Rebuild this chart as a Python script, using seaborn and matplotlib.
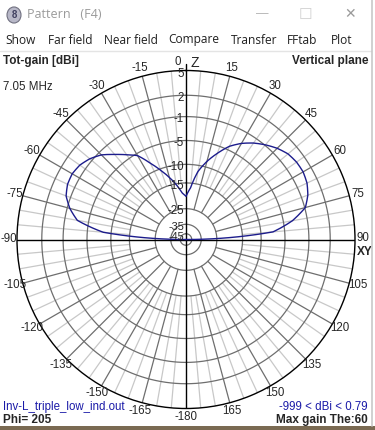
import numpy as np
import matplotlib
matplotlib.use("Agg")
import matplotlib.pyplot as plt
import seaborn as sns

sns.set_style("white")
plt.rcParams["font.family"] = ["Liberation Sans", "DejaVu Sans"]

# far-field pattern, vertical plane (theta measured from Z, clockwise)
theta_deg = [-90, -85, -80, -75, -70, -65, -60, -55, -50, -45, -40, -35, -30, -25, -20,
             -15, -10, -5, 0, 5, 10, 15, 20, 25, 30, 35, 40, 45, 50, 55, 60, 65, 70,
             75, 80, 85, 90]
gain_dbi = [-999, -8.2, -3.0, -1.4, -0.3, 0.15, 0.25, 0.0, -0.6, -1.5, -2.9, -4.2, -5.4,
            -8.0, -10.4, -12.8, -15.3, -18.2, -19.6, -16.5, -11.5, -8.7, -6.4, -4.3,
            -2.9, -1.8, -0.9, -0.1, 0.5, 0.75, 0.79, 0.55, 0.0, -0.9, -3.4, -7.3, -999]

ring_db = [5, 2, -1, -5, -10, -15, -25, -35, -45]
angle_ticks = list(range(-165, 181, 15))
menu_items = ["Show", "Far field", "Near field", "Compare", "Transfer", "FFtab", "Plot"]
menu_x = [5, 48, 104, 168, 231, 287, 331]

TOP_DB = 5.0
K = 0.05
D_FLOOR = 60.0


def to_r(dbi):
    """4nec2 style log scale: outer ring = TOP_DB, centre = -inf."""
    d = np.clip(TOP_DB - np.asarray(dbi, dtype=float), 0, None)
    r = (np.exp(-K * d) - np.exp(-K * D_FLOOR)) / (1 - np.exp(-K * D_FLOOR))
    return np.clip(r, 0, 1)


W, H = 375, 430
fig = plt.figure(figsize=(W / 100, H / 100), dpi=100)
fig.patch.set_facecolor("white")


def px(x, y):
    return x / W, 1 - y / H


# window chrome
fig.patches.append(plt.Circle(px(14, 15), 7 / W, transform=fig.transFigure,
                              facecolor="#b8b8c8", edgecolor="#707080", lw=0.8))
fig.text(*px(14, 15), "8", ha="center", va="center", fontsize=7, color="#404060",
         fontweight="bold")
fig.text(*px(27, 15), "Pattern   (F4)", ha="left", va="center", fontsize=9,
         color="#9a9a9a", family=["Open Sans", "DejaVu Sans"])
fig.text(*px(262, 14), "\u2014", ha="center", va="center", fontsize=9, color="#b0b0b0")
fig.text(*px(305, 14), "\u2610", ha="center", va="center", fontsize=11, color="#d0d0d0",
         family="DejaVu Sans")
fig.text(*px(350, 14), "\u2715", ha="center", va="center", fontsize=10, color="#9a9a9a",
         family="DejaVu Sans")
for label, x in zip(menu_items, menu_x):
    fig.text(*px(x, 40), label, ha="left", va="center", fontsize=8.6, color="#202020",
             family=["Open Sans", "DejaVu Sans"])
fig.add_artist(plt.Line2D([0, 371 / W], [1 - 51 / H] * 2, transform=fig.transFigure,
                          color="#e4e4e4", lw=1))
fig.add_artist(plt.Line2D([371.5 / W] * 2, [1 - 426 / H, 1], transform=fig.transFigure,
                          color="#c8c8c8", lw=1.2))
fig.patches.append(plt.Rectangle((0, 0), 1, 4 / H, transform=fig.transFigure,
                                 facecolor="#7a6a52", edgecolor="none"))

# header / footer texts
fig.text(*px(3, 61), "Tot-gain [dBi]", ha="left", va="center", fontsize=8.5,
         fontweight="bold")
fig.text(*px(368, 61), "Vertical plane", ha="right", va="center", fontsize=8.5,
         fontweight="bold")
fig.text(*px(3, 87), "7.05 MHz", ha="left", va="center", fontsize=8.3)
fig.text(*px(3, 407), "Inv-L_triple_low_ind.out", ha="left", va="center", fontsize=8.3,
         color="#1a1aa8")
fig.text(*px(368, 407), "-999 < dBi < 0.79", ha="right", va="center", fontsize=8.3,
         color="#1a1aa8")
fig.text(*px(3, 420), "Phi= 205", ha="left", va="center", fontsize=8.5, fontweight="bold")
fig.text(*px(368, 420), "Max gain The:60", ha="right", va="center", fontsize=8.5,
         fontweight="bold")

# polar plot area: centre (186, 239.5), radius 169 px
cx, cy, R = 186, 239.5, 169
ax = fig.add_axes([(cx - R) / W, (H - cy - R) / H, 2 * R / W, 2 * R / H], projection="polar")
ax.set_theta_zero_location("N")
ax.set_theta_direction(-1)
ax.set_ylim(0, 1)
ax.grid(False)
ax.set_xticks([])
ax.set_yticks([])
ax.set_facecolor("white")
ax.spines["polar"].set_color("black")
ax.spines["polar"].set_linewidth(1.0)

full = np.linspace(0, 2 * np.pi, 361)
for db in ring_db[1:]:
    ax.plot(full, np.full_like(full, to_r(db)), color="#6e6e6e", lw=0.9, zorder=1)

r_dark0 = to_r(-25)
r_light0 = to_r(-15)
for a in range(0, 360, 5):
    t = np.deg2rad(a)
    if a % 90 == 0:
        continue
    if a % 15 == 0:
        ax.plot([t, t], [r_dark0, 1], color="#6e6e6e", lw=0.9, zorder=1)
    else:
        ax.plot([t, t], [r_light0, 1], color="#c8c8c8", lw=0.9, zorder=0.9)
for a in (0, 90):
    t = np.deg2rad(a)
    ax.plot([t, t + np.pi], [1, 1], color="black", lw=1.0, zorder=2)
ax.plot([0, 0], [1, 1.04], color="black", lw=1.0, clip_on=False, zorder=2)

# ring labels along the Z axis
for db in ring_db:
    ax.annotate(str(db), xy=(0, to_r(db)), xytext=(-1.5, -2.5 if db == 5 else -2),
                textcoords="offset points", ha="right", va="center",
                fontsize=8.3 if db > -35 else 7.8, zorder=4)

# angle labels
for a in angle_ticks:
    t = np.deg2rad(a)
    if a == 0:
        ax.annotate("0", xy=(t, 1.035), xytext=(-6, 2), textcoords="offset points",
                    ha="center", va="center", fontsize=8.3, annotation_clip=False)
        ax.annotate("Z", xy=(t, 1.035), xytext=(6, 1.5), textcoords="offset points",
                    ha="center", va="center", fontsize=10, annotation_clip=False)
        continue
    if a == 90:
        ax.annotate("90", xy=(t, 1.0), xytext=(6, 1), textcoords="offset points",
                    ha="center", va="center", fontsize=8.3, annotation_clip=False)
        ax.annotate("XY", xy=(t, 1.0), xytext=(7, -9), textcoords="offset points",
                    ha="center", va="center", fontsize=8.5, fontweight="bold",
                    annotation_clip=False)
        continue
    label = "-180" if a == 180 else str(a)
    ax.text(t, 1.05, label, ha="center", va="center", fontsize=8.3, clip_on=False)

# the pattern itself
sns.lineplot(x=np.deg2rad(theta_deg), y=to_r(gain_dbi), ax=ax, sort=False,
             color="#1c1c8c", linewidth=1.0, zorder=3)
# follow the polar grid between samples instead of straight chords
ax.lines[-1].get_path()._interpolation_steps = 10
ax.set_xlabel("")
ax.set_ylabel("")
ax.set_xticks([])
ax.set_yticks([])
ax.set_ylim(0, 1)

fig.savefig("out.png", dpi=100)
